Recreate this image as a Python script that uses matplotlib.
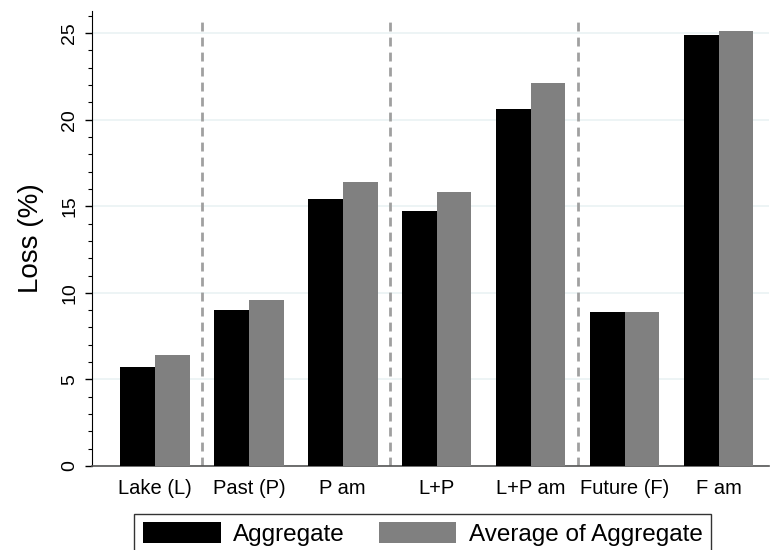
import numpy as np
import matplotlib
matplotlib.use("Agg")
import matplotlib.pyplot as plt
from matplotlib.ticker import MultipleLocator

categories = ["Lake (L)", "Past (P)", "P am", "L+P", "L+P am", "Future (F)", "F am"]
aggregate = [5.7, 9.0, 15.4, 14.7, 20.6, 8.9, 24.9]
avg_aggregate = [6.4, 9.6, 16.4, 15.8, 22.1, 8.9, 25.1]
separators = [0.5, 2.5, 4.5]

plt.rcParams['font.family'] = ['Liberation Sans', 'DejaVu Sans']

fig = plt.figure(figsize=(7.7, 5.5), dpi=100)
ax = fig.add_axes([0.1195, 0.1527, 0.8795, 0.828])

x = np.arange(len(categories))
w = 0.37
ax.bar(x - w / 2, aggregate, w, color='black', label='Aggregate', zorder=3)
ax.bar(x + w / 2, avg_aggregate, w, color='#808080', label='Average of Aggregate', zorder=3)

# dashed separators between groups
for s in separators:
    ax.plot([s, s], [0, 26], color='#a0a0a0', lw=2, dashes=(3.2, 2.2), zorder=2)

ax.set_xlim(-0.67, 6.54)
ax.set_ylim(0, 26.3)
ax.set_xticks(x)
ax.set_xticklabels(categories, fontsize=14.5)
ax.tick_params(axis='x', length=0, pad=9)

ax.yaxis.set_major_locator(MultipleLocator(5))
ax.yaxis.set_minor_locator(MultipleLocator(1))
ax.tick_params(axis='y', which='major', length=5, width=1, labelsize=14, pad=5)
ax.tick_params(axis='y', which='minor', length=3, width=0.8)
for lab in ax.get_yticklabels():
    lab.set_rotation(90)
    lab.set_va('center')

ax.grid(axis='y', color='#eaf2f3', lw=1.2, zorder=0)
ax.set_axisbelow(True)

ax.spines['top'].set_visible(False)
ax.spines['right'].set_visible(False)
ax.spines['left'].set_color('black')
ax.spines['bottom'].set_color('#555555')
ax.spines['bottom'].set_linewidth(1.2)

ax.set_ylabel('Loss (%)', fontsize=20, labelpad=12)

leg = fig.legend(loc='upper center', bbox_to_anchor=(0.549, 0.0655), ncol=2,
                 fontsize=17.5, frameon=True, fancybox=False, edgecolor='black',
                 handlelength=3.2, handleheight=0.9, handletextpad=0.5,
                 columnspacing=1.4, borderpad=0.35, borderaxespad=0)
leg.get_frame().set_linewidth(1)

fig.savefig('out.png', dpi=100)
